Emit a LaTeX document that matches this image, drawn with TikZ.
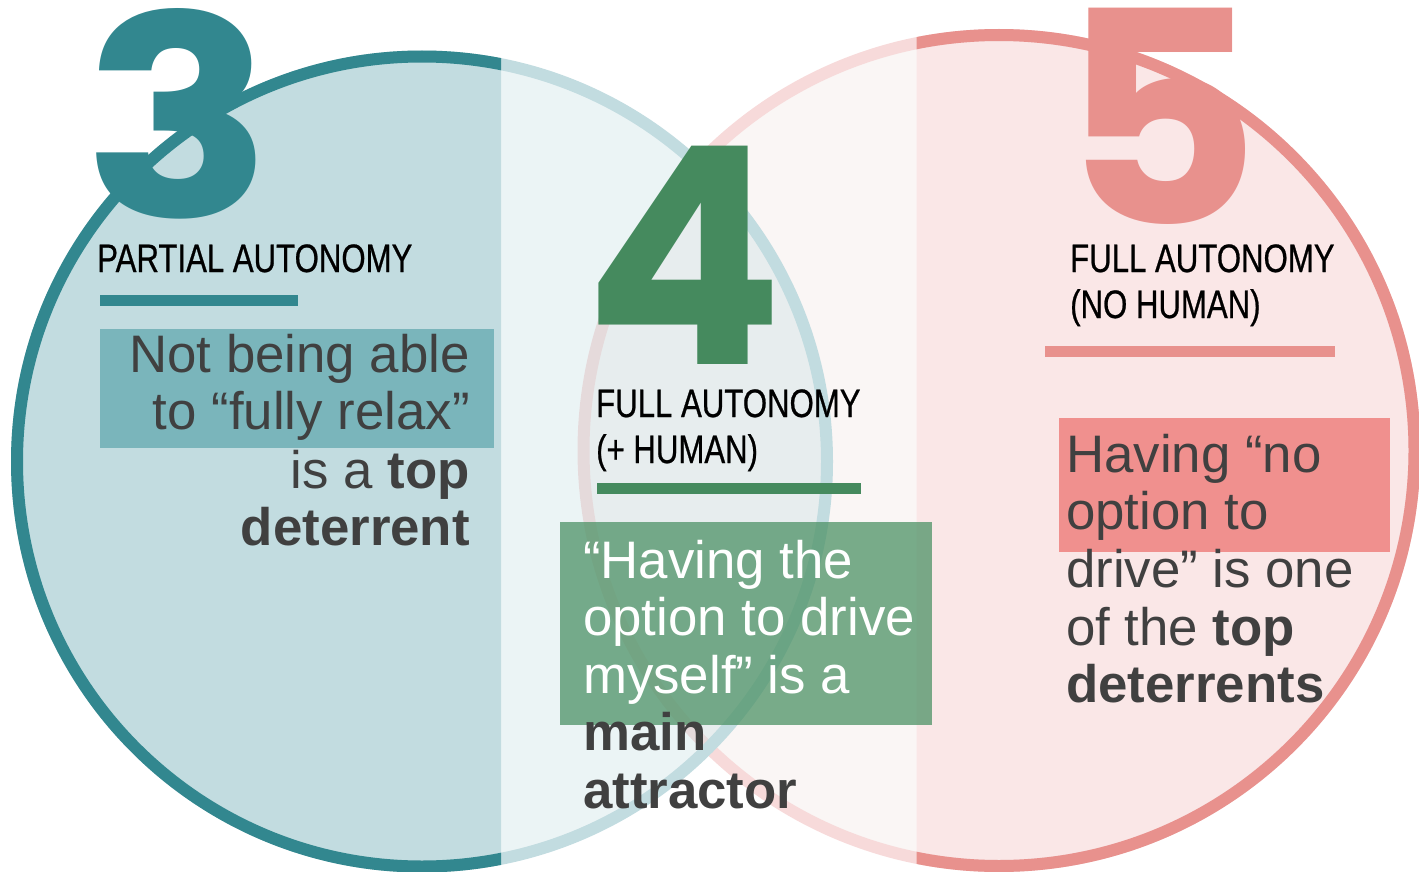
\documentclass[tikz,border=0pt]{standalone}
\usepackage{fontspec}
\usepackage{graphicx}
\setmainfont{Liberation Sans}
\newfontfamily\hdrfont{Liberation Sans}[FakeStretch=0.785,FakeBold=0.6]
\newfontfamily\numfont{Poppins}
\definecolor{tealdark}{HTML}{32878F}
\definecolor{teallight}{HTML}{C2DCE0}
\definecolor{tealbox}{HTML}{7AB5BB}
\definecolor{pinkdark}{HTML}{E8918D}
\definecolor{pinkfill}{HTML}{FAE7E7}
\definecolor{pinkfaint}{HTML}{F7DADA}
\definecolor{pinkpale}{HTML}{FAF6F5}
\definecolor{pinkbox}{HTML}{F0908E}
\definecolor{greendark}{HTML}{458A5E}
\definecolor{greenbox}{HTML}{4D9266}
\definecolor{txtgray}{HTML}{404040}
\newcommand\bodysize{\fontsize{52.8}{57.7}\selectfont}
\newcommand\hdrsize{\hdrfont\fontsize{39.7}{46}\selectfont}
\begin{document}
\begin{tikzpicture}[x=1pt,y=-1pt,
  bodyr/.style={inner sep=0, font=\bodysize, text=txtgray, anchor=base east},
  bodyl/.style={inner sep=0, font=\bodysize, text=txtgray, anchor=base west},
  hdr/.style={inner sep=0, font=\hdrsize, text=black, anchor=base west},
  bignum/.style={inner sep=0, anchor=base}]
\useasboundingbox (0,0) rectangle (1419,872);
\clip (0,0) rectangle (1419,872);
\coordinate (L) at (422,461.5);
\coordinate (R) at (999,450.5);
% right circle fills and stroke
\fill[pinkpale] (R) circle[radius=415.5pt];
\begin{scope}
  \clip (916.7,0) rectangle (1419,872);
  \fill[pinkfill] (R) circle[radius=415.5pt];
\end{scope}
\draw[pinkfaint, line width=12pt] (R) circle[radius=415.5pt];
\begin{scope}
  \clip (916.7,0) rectangle (1419,872);
  \draw[pinkdark, line width=12pt] (R) circle[radius=415.5pt];
\end{scope}
% left circle fills and stroke
\fill[teallight, fill opacity=0.32] (L) circle[radius=405pt];
\begin{scope}
  \clip (0,0) rectangle (501,872);
  \fill[teallight] (L) circle[radius=405pt];
\end{scope}
\draw[teallight, line width=12pt] (L) circle[radius=405pt];
\begin{scope}
  \clip (0,0) rectangle (501,872);
  \draw[tealdark, line width=12pt] (L) circle[radius=405pt];
\end{scope}
% big numbers
\node[bignum, text=tealdark] (n3) at (178,217) {\scalebox{1.12}[1]{\resizebox{!}{209pt}{\numfont\bfseries 3}}};
\node[bignum, text=greendark] (n4) at (684,364) {\scalebox{0.97}[1]{\resizebox{!}{218pt}{\numfont\bfseries 4}}};
\node[bignum, text=pinkdark] (n5) at (1160.5,224) {\scalebox{1.04}[1]{\resizebox{!}{216pt}{\numfont\bfseries 5}}};
% headers and bars
\node[hdr] (h3) at (97,272) {PARTIAL AUTONOMY};
\fill[tealdark] (100,295) rectangle (298,306);
\node[hdr] (h4a) at (596,417) {FULL AUTONOMY};
\node[hdr] (h4b) at (596,463) {(+ HUMAN)};
\fill[greendark] (597,483) rectangle (861,494);
\node[hdr] (h5a) at (1070,272) {FULL AUTONOMY};
\node[hdr] (h5b) at (1070,318) {(NO HUMAN)};
\fill[pinkdark] (1045,346) rectangle (1335,357);
% boxes
\fill[tealbox] (100,328.5) rectangle (494,447.8);
\fill[greenbox, fill opacity=0.75] (560,522) rectangle (932,725);
\fill[pinkbox] (1059,418) rectangle (1390,552);
% left text
\node[bodyr] (t3a) at (470,372) {Not being able};
\node[bodyr] (t3b) at (470,429.5) {to “fully relax”};
\node[bodyr] (t3c) at (470,488) {is a \textbf{top}};
\node[bodyr] (t3d) at (470,545) {\textbf{deterrent}};
% middle text
\node[bodyl, text=white] (t4a) at (583,578) {“Having the};
\node[bodyl, text=white] (t4b) at (583,635) {option to drive};
\node[bodyl, text=white] (t4c) at (583,693) {myself” is a};
\node[bodyl] (t4d) at (583,750) {\textbf{main}};
\node[bodyl] (t4e) at (583,808) {\textbf{attractor}};
% right text
\node[bodyl] (t5a) at (1066,472) {Having “no};
\node[bodyl] (t5b) at (1066,529) {option to};
\node[bodyl] (t5c) at (1066,587) {drive” is one};
\node[bodyl] (t5d) at (1066,645) {of the \textbf{top}};
\node[bodyl] (t5e) at (1066,702) {\textbf{deterrents}};
\end{tikzpicture}
\end{document}
